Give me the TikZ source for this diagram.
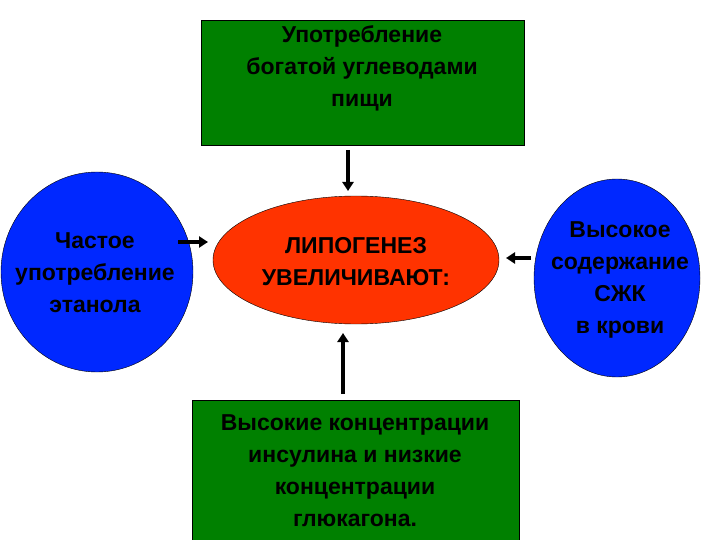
\documentclass[tikz,border=0pt]{standalone}
\usepackage{fontspec}
\setmainfont{Liberation Sans}
\usetikzlibrary{arrows.meta}
\definecolor{gbox}{RGB}{0,128,0}
\definecolor{rell}{RGB}{255,51,0}
\definecolor{bell}{RGB}{0,40,255}
\begin{document}
\begin{tikzpicture}[x=1pt,y=-1pt,
  txt/.style={font=\bfseries\fontsize{23}{32}\selectfont,align=center,text=black},
  arr/.style={line width=3.5pt,-{Triangle[length=9pt,width=11pt]}}]
\useasboundingbox (0,0) rectangle (720,540);
\draw[fill=gbox] (201,20) rectangle (524,145);
\node[txt] (top) at (362,68) {Употребление\\богатой углеводами\\пищи};
\draw[fill=rell] (356,260) ellipse [x radius=143,y radius=64];
\node[txt] (mid) at (356,262) {ЛИПОГЕНЕЗ\\УВЕЛИЧИВАЮТ:};
\draw[fill=bell] (97,272) ellipse [x radius=96,y radius=100];
\node[txt] (left) at (95,273) {Частое\\употребление\\этанола};
\draw[fill=bell] (617,278) ellipse [x radius=83,y radius=99];
\node[txt] (right) at (620,280) {Высокое\\содержание\\СЖК\\в крови};
\draw[fill=gbox] (192,400) rectangle (519,545);
\node[txt] (bot) at (355,471) {Высокие концентрации\\инсулина и низкие\\концентрации\\глюкагона.};
\coordinate (a1) at (348,150); \coordinate (a2) at (348,191);
\draw[arr] (a1) -- (a2);
\coordinate (b1) at (178,242); \coordinate (b2) at (208,242);
\draw[arr] (b1) -- (b2);
\coordinate (c1) at (531,258); \coordinate (c2) at (506,258);
\draw[arr] (c1) -- (c2);
\coordinate (d1) at (343,394); \coordinate (d2) at (343,333);
\draw[arr] (d1) -- (d2);
\end{tikzpicture}
\end{document}
